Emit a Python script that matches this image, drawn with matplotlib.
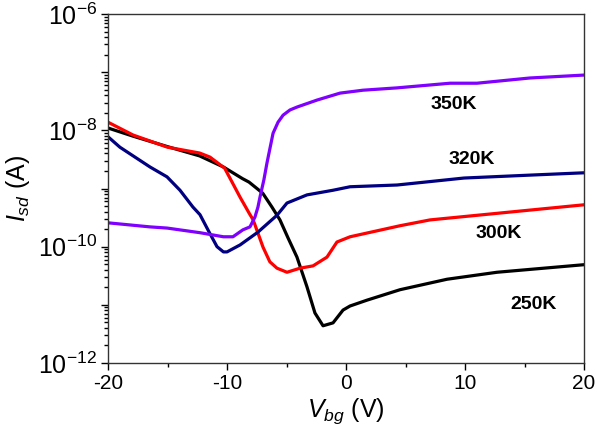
import numpy as np
import matplotlib
matplotlib.use("Agg")
import matplotlib.pyplot as plt
from matplotlib.ticker import LogLocator, FuncFormatter, MultipleLocator, NullFormatter

plt.rcParams['font.family'] = ['Liberation Sans', 'DejaVu Sans']
plt.rcParams['mathtext.fontset'] = 'custom'
plt.rcParams['mathtext.rm'] = 'Liberation Sans'
plt.rcParams['mathtext.it'] = 'Liberation Sans:italic'
plt.rcParams['axes.unicode_minus'] = False

# gate voltage (V) and log10 of source-drain current (A)
v_250 = [-20, -17.9, -15.0, -12.3, -10.3, -8.7, -8.15, -7.0, -6.22, -5.55, -4.87, -4.12, -3.28,
         -2.61, -1.93, -1.09, -0.25, 0.34, 1.76, 4.54, 8.49, 12.69, 20]
lg_250 = [-7.96, -8.10, -8.28, -8.44, -8.63, -8.83, -8.89, -9.08, -9.32, -9.54, -9.85, -10.18, -10.69,
          -11.14, -11.36, -11.31, -11.09, -11.02, -10.92, -10.74, -10.56, -10.44, -10.31]

v_300 = [-20, -17.9, -15.0, -12.3, -11.43, -10.2, -9.6, -8.9, -8.15, -7.8, -6.97, -6.4, -5.8,
         -4.96, -3.87, -2.77, -1.6, -0.76, 0.34, 4.54, 7.06, 20]
lg_300 = [-7.86, -8.08, -8.29, -8.39, -8.46, -8.65, -8.88, -9.15, -9.42, -9.54, -10.01, -10.26, -10.37,
          -10.44, -10.37, -10.33, -10.18, -9.92, -9.83, -9.64, -9.54, -9.28]

v_320 = [-20, -19.0, -16.47, -15.04, -13.95, -12.86, -12.27, -11.5, -10.84, -10.3, -10.0,
         -8.9, -7.4, -5.8, -4.96, -3.28, -1.09, 0.34, 4.29, 9.92, 15.46, 20]
lg_320 = [-8.11, -8.29, -8.63, -8.80, -9.03, -9.32, -9.45, -9.75, -10.0, -10.09, -10.09,
          -9.97, -9.75, -9.46, -9.25, -9.11, -9.03, -8.97, -8.94, -8.82, -8.77, -8.73]

v_350 = [-20, -16.47, -15.04, -12.27, -10.3, -9.5, -8.66, -8.07, -7.65, -7.4, -7.23, -6.9,
         -6.64, -6.13, -5.71, -5.29, -4.71, -4.12, -2.44, -0.5, 1.43, 4.29, 8.74, 11.0, 15.46, 20]
lg_350 = [-9.59, -9.66, -9.68, -9.76, -9.83, -9.83, -9.71, -9.66, -9.49, -9.32, -9.15, -8.85,
          -8.56, -8.05, -7.86, -7.74, -7.65, -7.60, -7.48, -7.36, -7.31, -7.27, -7.19, -7.19, -7.10, -7.05]

temps = ['250K', '300K', '320K', '350K']
colors = ['black', '#ff0000', '#000080', '#8000ff']
label_pos = [(15.8, -11.0), (12.86, -9.78), (10.59, -8.51), (9.08, -7.55)]

fig = plt.figure(figsize=(5.97, 4.36), dpi=100)
ax = fig.add_axes([108/597, 1 - 363/436, (584 - 108)/597, (363 - 14)/436])

series = [(v_250, lg_250), (v_300, lg_300), (v_320, lg_320), (v_350, lg_350)]
for (v, lg), c in zip(series, colors):
    ax.plot(v, 10.0**np.array(lg), color=c, lw=2.3, solid_joinstyle='round')

for t, (x, y) in zip(temps, label_pos):
    ax.text(x, 10.0**y, t, ha='center', va='center', fontsize=14, fontweight='bold')

ax.set_yscale('log')
ax.set_xlim(-20, 20)
ax.set_ylim(1e-12, 1e-6)

ax.xaxis.set_major_locator(MultipleLocator(10))
ax.xaxis.set_minor_locator(MultipleLocator(5))
ax.yaxis.set_major_locator(LogLocator(base=10, numticks=20))
ax.yaxis.set_minor_locator(LogLocator(base=10, subs=np.arange(2, 10), numticks=20))
ax.yaxis.set_minor_formatter(NullFormatter())


def ylab(val, pos):
    e = int(round(np.log10(val)))
    return r'$10^{\mathrm{-%d}}$' % (-e) if e % 2 == 0 else ''


ax.yaxis.set_major_formatter(FuncFormatter(ylab))

ax.tick_params(axis='x', which='major', direction='out', length=5, width=1, labelsize=15, pad=3)
ax.tick_params(axis='x', which='minor', direction='out', length=3, width=1)
ax.tick_params(axis='y', which='major', direction='out', length=5, width=1, labelsize=18, pad=3)
ax.tick_params(axis='y', which='minor', direction='out', length=3, width=1)
for s in ax.spines.values():
    s.set_color('#333333')
    s.set_linewidth(1.0)

ax.set_xlabel(r'$V_{bg}$ (V)', fontsize=18, labelpad=2)
ax.set_ylabel(r'$I_{sd}$ (A)', fontsize=18, labelpad=4)

fig.savefig('out.png', dpi=100)
